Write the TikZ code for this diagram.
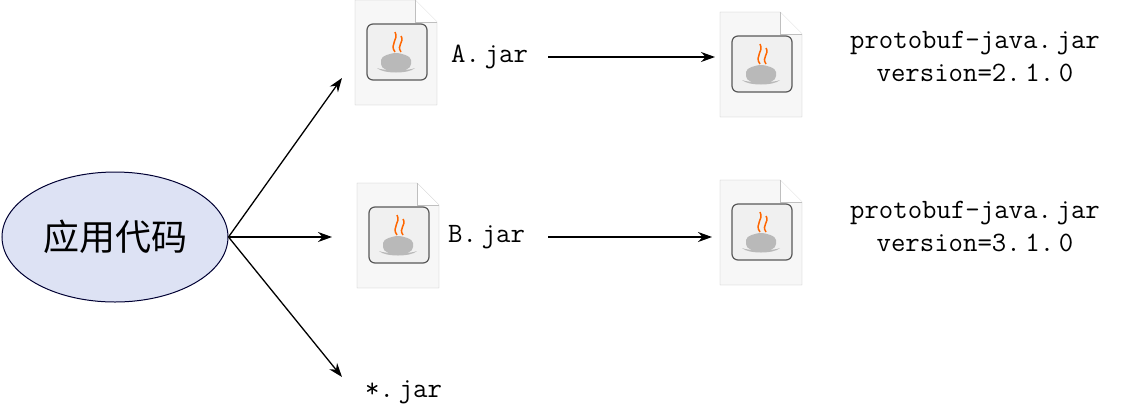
\documentclass[tikz,border=0pt]{standalone}
\usepackage{fontspec}
\newfontfamily\cjk{Noto Sans CJK SC}
\usetikzlibrary{arrows.meta,shapes.geometric}
\definecolor{ell}{HTML}{DDE2F4}
\definecolor{pg}{HTML}{F7F7F7}
\tikzset{
  conn/.style={draw=black,line width=1.3pt,-{Stealth[length=14pt,width=10pt]}},
  lbl/.style={font=\ttfamily\fontsize{28pt}{33pt}\selectfont,align=center,inner sep=1pt},
  jar/.pic={
    \draw[gray!50,fill=pg] (0,0) -- (60,0) -- (82,22) -- (82,105) -- (0,105) -- cycle;
    \draw[gray!50,fill=white] (60,0) -- (60,22) -- (82,22);
    \draw[gray!70!black,line width=1.2pt,fill=gray!12,rounded corners=6pt] (12,24) rectangle (72,80);
    \fill[gray!55] (26,64) .. controls (26,74) and (56,74) .. (56,64) -- (56,60) .. controls (56,56) and (46,53) .. (41,53) .. controls (36,53) and (26,56) .. (26,60) -- cycle;
    \fill[gray!55] (22,68) .. controls (28,74) and (54,74) .. (60,68) .. controls (54,71) and (28,71) .. (22,68);
    \draw[orange!80!red,line width=1.5pt] (40,52) .. controls (34,44) and (44,40) .. (40,32);
    \draw[orange!80!red,line width=1.5pt] (46,52) .. controls (41,45) and (50,42) .. (46,36);
  }
}
\begin{document}
\begin{tikzpicture}[x=1pt,y=-1pt]
\useasboundingbox (0,0) rectangle (1132,416);
\node[draw=black!80!blue,line width=1pt,fill=ell,ellipse,minimum width=226pt,minimum height=130pt,inner sep=0pt,font=\cjk\fontsize{36pt}{40pt}\selectfont] (app) at (115,237) {应用代码};
\pic at (355,0) {jar};
\pic at (720,12) {jar};
\pic at (357,183) {jar};
\pic at (720,180) {jar};
\coordinate (ai) at (342,78);
\coordinate (bi) at (332,237);
\coordinate (si) at (342,377);
\node[lbl,anchor=west] (a) at (450,57) {A.\,jar};
\node[lbl,anchor=west] (b) at (447,237) {B.\,jar};
\node[lbl,anchor=west] (s) at (364,392) {*.\,jar};
\node[lbl] (p1) at (975,57) {protobuf-java.\,jar\\version=2.\,1.\,0};
\node[lbl] (p2) at (975,227) {protobuf-java.\,jar\\version=3.\,1.\,0};
\coordinate (a1) at (548,57); \coordinate (a2) at (715,57);
\coordinate (b1) at (548,237); \coordinate (b2) at (712,237);
\draw[conn] (app.east) -- (ai);
\draw[conn] (app.east) -- (bi);
\draw[conn] (app.east) -- (si);
\draw[conn] (a1) -- (a2);
\draw[conn] (b1) -- (b2);
\end{tikzpicture}
\end{document}
